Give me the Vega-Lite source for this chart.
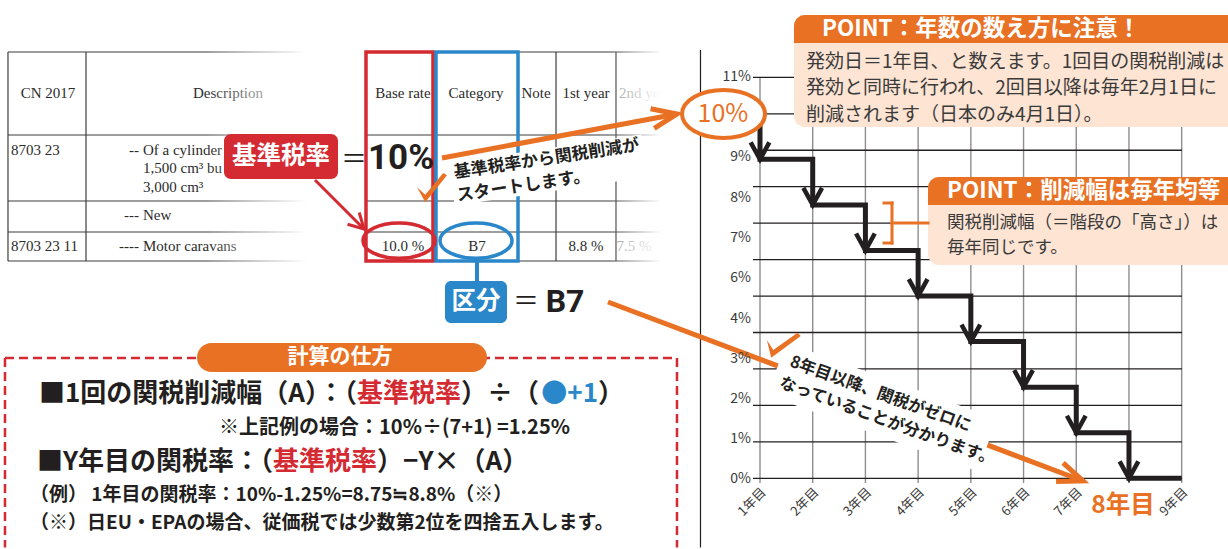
{
"$schema":"https://vega.github.io/schema/vega-lite/v6.json",
"width":1228,"height":549,"padding":0,
"autosize":{"type":"fit","contains":"padding"},
"background":"#ffffff",
"config":{"view":{"stroke":null},"axis":{"disable":true},"text":{"font":"Noto Sans CJK JP"}},
"encoding":{
 "x":{"field":"x","type":"quantitative","scale":{"domain":[-13.4185,9.8788],"nice":false,"zero":false},"axis":null},
 "y":{"field":"y","type":"quantitative","scale":{"domain":[-1.9396,13.1221],"nice":false,"zero":false},"axis":null}
},
"layer":[
{"data":{"values":[
{"x":-13.267,"x2":-7.499,"y":11.695,"y2":11.695},
{"x":-13.267,"x2":-7.499,"y":9.418,"y2":9.418},
{"x":-13.267,"x2":-7.499,"y":7.608,"y2":7.608},
{"x":-13.267,"x2":-7.499,"y":6.757,"y2":6.757},
{"x":-13.267,"x2":-7.499,"y":5.962,"y2":5.962},
{"x":-13.267,"x2":-13.267,"y":11.695,"y2":5.962},
{"x":-11.787,"x2":-11.787,"y":11.695,"y2":5.962},
{"x":-6.475,"x2":-0.897,"y":11.695,"y2":11.695},
{"x":-6.475,"x2":-0.897,"y":9.418,"y2":9.418},
{"x":-6.475,"x2":-0.897,"y":7.608,"y2":7.608},
{"x":-6.475,"x2":-0.897,"y":6.757,"y2":6.757},
{"x":-6.475,"x2":-0.897,"y":5.962,"y2":5.962},
{"x":-5.166,"x2":-5.166,"y":11.695,"y2":5.962},
{"x":-3.591,"x2":-3.591,"y":11.695,"y2":5.962},
{"x":-2.870,"x2":-2.870,"y":11.695,"y2":5.962},
{"x":-1.732,"x2":-1.732,"y":11.695,"y2":5.962}
]},
"mark":{"type":"rule","color":"#3c3c3c","strokeWidth":1.2},
"encoding":{"x2":{"field":"x2"},"y2":{"field":"y2"}}},

{"data":{"values":[
{"x":-12.508,"y":10.571,"t":"CN 2017"},
{"x":-9.093,"y":10.571,"t":"Description"},
{"x":-5.773,"y":10.571,"t":"Base rate"},
{"x":-4.388,"y":10.571,"t":"Category"},
{"x":-3.250,"y":10.571,"t":"Note"},
{"x":-2.301,"y":10.571,"t":"1st year"},
{"x":-5.773,"y":6.373,"t":"10.0 %"},
{"x":-4.369,"y":6.373,"t":"B7"},
{"x":-2.301,"y":6.373,"t":"8.8 %"}
]},
"mark":{"type":"text","font":"Liberation Serif","fontSize":15,"color":"#2b2b2b","align":"center","baseline":"middle"},
"encoding":{"text":{"field":"t"}}},

{"data":{"values":[
{"x":-1.182,"y":10.571,"t":"2nd year"},
{"x":-1.390,"y":6.373,"t":"7.5 %"}
]},
"mark":{"type":"text","font":"Liberation Serif","fontSize":15,"color":"#a0a0a0","align":"center","baseline":"middle"},
"encoding":{"text":{"field":"t"}}},

{"data":{"values":[
{"x":-13.210,"y":9.007,"t":"8703 23"},
{"x":-13.210,"y":6.373,"t":"8703 23 11"},
{"x":-10.706,"y":9.007,"t":"Of a cylinder"},
{"x":-10.706,"y":8.513,"t":"1,500 cm³ bu"},
{"x":-10.706,"y":7.992,"t":"3,000 cm³"},
{"x":-10.706,"y":7.224,"t":"New"},
{"x":-10.706,"y":6.373,"t":"Motor caravans"}
]},
"mark":{"type":"text","font":"Liberation Serif","fontSize":15,"color":"#2b2b2b","align":"left","baseline":"middle"},
"encoding":{"text":{"field":"t"}}},

{"data":{"values":[
{"x":-10.782,"y":9.007,"t":"--"},
{"x":-10.782,"y":7.224,"t":"---"},
{"x":-10.782,"y":6.373,"t":"----"}
]},
"mark":{"type":"text","font":"Liberation Serif","fontSize":15,"color":"#2b2b2b","align":"right","baseline":"middle"},
"encoding":{"text":{"field":"t"}}},

{"data":{"values":[
{"x":-9.529,"x2":-6.551,"y":11.888,"y2":5.770},
{"x":-1.846,"x2":-0.328,"y":11.888,"y2":5.770}
]},
"mark":{"type":"rect","fill":{"gradient":"linear","x1":0,"y1":0,"x2":1,"y2":0,"stops":[{"offset":0,"color":"rgba(255,255,255,0)"},{"offset":0.65,"color":"#ffffff"},{"offset":1,"color":"#ffffff"}]}},
"encoding":{"x2":{"field":"x2"},"y2":{"field":"y2"}}},

{"data":{"values":[{"x":-6.475,"x2":-5.204,"y":11.695,"y2":5.962}]},
"mark":{"type":"rect","filled":false,"color":"#D42A31","strokeWidth":3.5},
"encoding":{"x2":{"field":"x2"},"y2":{"field":"y2"}}},
{"data":{"values":[{"x":-5.147,"x2":-3.591,"y":11.695,"y2":5.962}]},
"mark":{"type":"rect","filled":false,"color":"#2A87C9","strokeWidth":3.5},
"encoding":{"x2":{"field":"x2"},"y2":{"field":"y2"}}},

{"data":{"values":[{"x":-5.849,"y":6.52}]},
"mark":{"type":"point","shape":"M-1,0C-1,-0.271,-0.552,-0.49,0,-0.49C0.552,-0.49,1,-0.271,1,0C1,0.271,0.552,0.49,0,0.49C-0.552,0.49,-1,0.271,-1,0Z","size":5184,"filled":false,"color":"#D42A31","strokeWidth":3.5,"opacity":1}},
{"data":{"values":[{"x":-4.388,"y":6.52}]},
"mark":{"type":"point","shape":"M-1,0C-1,-0.271,-0.552,-0.49,0,-0.49C0.552,-0.49,1,-0.271,1,0C1,0.271,0.552,0.49,0,0.49C-0.552,0.49,-1,0.271,-1,0Z","size":5184,"filled":false,"color":"#2A87C9","strokeWidth":3.5,"opacity":1}},

{"data":{"values":[{"year":1,"lo":-0.129,"hi":11},{"year":2,"lo":-0.129,"hi":11},{"year":3,"lo":-0.129,"hi":11},{"year":4,"lo":-0.129,"hi":11},{"year":5,"lo":-0.129,"hi":11},{"year":6,"lo":-0.129,"hi":11},{"year":7,"lo":-0.129,"hi":11},{"year":8,"lo":-0.129,"hi":11},{"year":9,"lo":-0.129,"hi":11}]},
"mark":{"type":"rule","color":"#8e8e8e","strokeWidth":1.4},
"encoding":{
 "x":{"field":"year","type":"quantitative","scale":{"domain":[-13.4185,9.8788],"nice":false,"zero":false},"axis":null},
 "y":{"field":"lo","type":"quantitative","scale":{"domain":[-1.9396,13.1221],"nice":false,"zero":false},"axis":null},
 "y2":{"field":"hi"}}},

{"data":{"values":[{"v":0,"from":0.867,"to":9.006},{"v":1,"from":0.867,"to":9.006},{"v":2,"from":0.867,"to":9.006},{"v":3,"from":0.867,"to":9.006},{"v":4,"from":0.867,"to":9.006},{"v":5,"from":0.867,"to":9.006},{"v":6,"from":0.867,"to":9.006},{"v":7,"from":0.867,"to":9.006},{"v":8,"from":0.867,"to":9.006},{"v":9,"from":0.867,"to":9.006},{"v":10,"from":0.867,"to":9.006},{"v":11,"from":0.867,"to":9.006}]},
"mark":{"type":"rule","color":"#231F20","strokeWidth":1.3},
"encoding":{
 "y":{"field":"v","type":"quantitative","scale":{"domain":[-1.9396,13.1221],"nice":false,"zero":false},"axis":null},
 "x":{"field":"from","type":"quantitative","scale":{"domain":[-13.4185,9.8788],"nice":false,"zero":false},"axis":null},
 "x2":{"field":"to"}}},

{"data":{"values":[{"year":1,"rate":10},{"year":1,"rate":8.75},{"year":2,"rate":7.5},{"year":3,"rate":6.25},{"year":4,"rate":5},{"year":5,"rate":3.75},{"year":6,"rate":2.5},{"year":7,"rate":1.25},{"year":8,"rate":0},{"year":9,"rate":0}]},
"mark":{"type":"line","interpolate":"step-after","color":"#231F20","strokeWidth":5,"strokeJoin":"miter"},
"encoding":{
 "x":{"field":"year","type":"quantitative","scale":{"domain":[-13.4185,9.8788],"nice":false,"zero":false},"axis":null},
 "y":{"field":"rate","type":"quantitative","scale":{"domain":[-1.9396,13.1221],"nice":false,"zero":false},"axis":null},
 "order":[{"field":"year","type":"quantitative"},{"field":"rate","type":"quantitative","sort":"descending"}]}},

{"data":{"values":[{"year":1,"rate":10},{"year":1,"rate":8.75},{"year":2,"rate":7.5},{"year":3,"rate":6.25},{"year":4,"rate":5},{"year":5,"rate":3.75},{"year":6,"rate":2.5},{"year":7,"rate":1.25},{"year":8,"rate":0},{"year":9,"rate":0}]},
"transform":[{"filter":"datum.rate < 10 && datum.year < 9"}],
"mark":{"type":"point","shape":"M-0.55,-1L0,0L0.55,-1","size":1156,"filled":false,"color":"#231F20","strokeWidth":4.5,"opacity":1},
"encoding":{
 "x":{"field":"year","type":"quantitative","scale":{"domain":[-13.4185,9.8788],"nice":false,"zero":false},"axis":null},
 "y":{"field":"rate","type":"quantitative","scale":{"domain":[-1.9396,13.1221],"nice":false,"zero":false},"axis":null}}},

{"data":{"values":[{"x":-0.129,"x2":-0.129,"y":11.75,"y2":-1.90}]},
"mark":{"type":"rule","color":"#231F20","strokeWidth":1.2},
"encoding":{"x2":{"field":"x2"},"y2":{"field":"y2"}}},

{"data":{"values":[{"x":1.645,"x2":9.8788,"y":12.711,"y2":9.638},{"x":4.187,"x2":9.8788,"y":8.266,"y2":5.852}]},
"mark":{"type":"rect","color":"#FDE4D3","cornerRadiusTopLeft":11,"cornerRadiusBottomLeft":11},
"encoding":{"x2":{"field":"x2"},"y2":{"field":"y2"}}},
{"data":{"values":[{"x":1.645,"x2":9.8788,"y":12.711,"y2":11.942},{"x":4.187,"x2":9.8788,"y":8.266,"y2":7.498}]},
"mark":{"type":"rect","color":"#E97124","cornerRadiusTopLeft":11},
"encoding":{"x2":{"field":"x2"},"y2":{"field":"y2"}}},

{"data":{"values":[
{"x":3.504,"x2":3.504,"y":7.553,"y2":6.455},
{"x":3.353,"x2":3.504,"y":7.553,"y2":7.553},
{"x":3.353,"x2":3.504,"y":6.455,"y2":6.455},
{"x":3.504,"x2":4.187,"y":7.004,"y2":7.004}]},
"mark":{"type":"rule","color":"#E97124","strokeWidth":3,"strokeCap":"square"},
"encoding":{"x2":{"field":"x2"},"y2":{"field":"y2"}}},

{"data":{"values":[{"x":-1.884,"y":4.837,"x2":7.128,"y2":-0.074}]},
"mark":{"type":"rule","color":"#E97124","strokeWidth":5},
"encoding":{"x2":{"field":"x2"},"y2":{"field":"y2"}}},

{"data":{"values":[{"x":3.315,"y":1.956}]},
"mark":{"type":"point","shape":"M-1,-0.25L1,-0.25L1,0.25L-1,0.25Z","size":50176,"angle":20,"filled":true,"color":"#ffffff","opacity":1}},
{"data":{"values":[{"x":-3.022,"y":8.458}]},
"mark":{"type":"point","shape":"M-1,-0.22L1,-0.22L1,0.22L-1,0.22Z","size":38025,"angle":-8.5,"filled":true,"color":"#ffffff","opacity":1}},

{"data":{"values":[{"x":-5.033,"y":8.787,"x2":-0.575,"y2":9.995}]},
"mark":{"type":"rule","color":"#E97124","strokeWidth":5},
"encoding":{"x2":{"field":"x2"},"y2":{"field":"y2"}}},
{"data":{"values":[{"x":-7.442,"y":8.184,"x2":-6.513,"y2":6.840}]},
"mark":{"type":"rule","color":"#D42A31","strokeWidth":3},
"encoding":{"x2":{"field":"x2"},"y2":{"field":"y2"}}},

{"data":{"values":[{"x":-0.575,"y":9.995}]},
"mark":{"type":"point","shape":"M-1,-0.4L0,0L-1,0.4","size":2500,"angle":-10.6,"filled":false,"color":"#E97124","strokeWidth":5,"opacity":1}},
{"data":{"values":[{"x":7.128,"y":-0.074}]},
"mark":{"type":"point","shape":"M-1,-0.4L0,0L-1,0.4","size":2500,"angle":20.6,"filled":false,"color":"#E97124","strokeWidth":5,"opacity":1}},
{"data":{"values":[{"x":-6.513,"y":6.840}]},
"mark":{"type":"point","shape":"M-1,-0.55L0,0L-1,0.55","size":900,"angle":45,"filled":false,"color":"#D42A31","strokeWidth":3,"opacity":1}},

{"data":{"values":[{"x":-5.223,"y":7.964}]},
"mark":{"type":"point","shape":"M-1,-0.05L-0.45,0.95L1,-0.85L0.75,-1L-0.45,0.45Z","size":900,"filled":true,"color":"#E97124","opacity":1}},
{"data":{"values":[{"x":1.417,"y":3.657}]},
"mark":{"type":"point","shape":"M-1,-0.05L-0.45,0.95L1,-0.85L0.75,-1L-0.45,0.45Z","size":1000,"angle":15,"filled":true,"color":"#E97124","opacity":1}},

{"data":{"values":[{"x":-9.169,"x2":-7.006,"y":9.446,"y2":8.211}]},
"mark":{"type":"rect","color":"#D42A31","cornerRadius":7},
"encoding":{"x2":{"field":"x2"},"y2":{"field":"y2"}}},
{"data":{"values":[{"x":-4.369,"x2":-4.369,"y":6.071,"y2":5.385}]},
"mark":{"type":"rule","color":"#2A87C9","strokeWidth":4},
"encoding":{"x2":{"field":"x2"},"y2":{"field":"y2"}}},
{"data":{"values":[{"x":-4.976,"x2":-3.800,"y":5.413,"y2":4.261}]},
"mark":{"type":"rect","color":"#2A87C9","cornerRadius":6},
"encoding":{"x2":{"field":"x2"},"y2":{"field":"y2"}}},

{"data":{"values":[{"x":0.3075,"y":9.995}]},
"mark":{"type":"point","shape":"M-1,0C-1,-0.32,-0.552,-0.58,0,-0.58C0.552,-0.58,1,-0.32,1,0C1,0.32,0.552,0.58,0,0.58C-0.552,0.58,-1,0.32,-1,0Z","size":6889,"filled":true,"fill":"#ffffff","stroke":"#E97124","strokeWidth":4,"opacity":1}},
{"data":{"values":[{"x":0.298,"y":9.995,"t":"10%"}]},
"mark":{"type":"text","fontSize":25,"color":"#E97124","align":"center","baseline":"middle"},
"encoding":{"text":{"field":"t"}}},

{"data":{"values":[{"x":-8.088,"y":8.815,"t":"基準税率"},{"x":-4.388,"y":4.837,"t":"区分"}]},
"mark":{"type":"text","fontSize":24.5,"fontWeight":"bold","color":"#ffffff","align":"center","baseline":"middle"},
"encoding":{"text":{"field":"t"}}},
{"data":{"values":[{"x":-6.703,"y":8.733,"t":"＝"},{"x":-3.439,"y":4.837,"t":"＝"}]},
"mark":{"type":"text","fontSize":26,"color":"#231F20","align":"center","baseline":"middle"},
"encoding":{"text":{"field":"t"}}},
{"data":{"values":[{"x":-5.811,"y":8.787,"t":"10%"}]},
"mark":{"type":"text","font":"Roboto","fontSize":35,"fontWeight":"bold","color":"#231F20","align":"center","baseline":"middle"},
"encoding":{"text":{"field":"t"}}},
{"data":{"values":[{"x":-2.699,"y":4.837,"t":"B7"}]},
"mark":{"type":"text","font":"Roboto","fontSize":32,"fontWeight":"bold","color":"#231F20","align":"center","baseline":"middle"},
"encoding":{"text":{"field":"t"}}},

{"data":{"values":[{"x":-4.805,"y":8.376,"t":"基準税率から関税削減が"},{"x":-4.748,"y":7.745,"t":"スタートします。"}]},
"mark":{"type":"text","fontSize":17,"fontWeight":"bold","angle":-8.5,"align":"left","baseline":"middle","color":"#231F20"},
"encoding":{"text":{"field":"t"}}},
{"data":{"values":[{"x":1.582,"y":3.207,"t":"8年目以降、関税がゼロに"},{"x":1.383,"y":2.636,"t":"なっていることが分かります。"}]},
"mark":{"type":"text","fontSize":16.5,"fontWeight":"bold","angle":20,"align":"left","baseline":"middle","color":"#231F20"},
"encoding":{"text":{"field":"t"}}},

{"data":{"values":[{"x":2.176,"y":12.326,"t":"POINT：年数の数え方に注意！"},{"x":4.548,"y":7.882,"t":"POINT：削減幅は毎年均等"}]},
"mark":{"type":"text","fontSize":22.5,"fontWeight":"bold","color":"#ffffff","align":"left","baseline":"middle","clip":true},
"encoding":{"text":{"field":"t"}}},
{"data":{"values":[
{"x":1.873,"y":11.421,"t":"発効日＝1年目、と数えます。1回目の関税削減は"},
{"x":1.873,"y":10.708,"t":"発効と同時に行われ、2回目以降は毎年2月1日に"},
{"x":1.873,"y":9.967,"t":"削減されます（日本のみ4月1日）。"}]},
"mark":{"type":"text","fontSize":19,"color":"#3a3a3a","align":"left","baseline":"middle","clip":true},
"encoding":{"text":{"field":"t"}}},
{"data":{"values":[
{"x":4.548,"y":7.004,"t":"関税削減幅（＝階段の「高さ」）は"},
{"x":4.548,"y":6.318,"t":"毎年同じです。"}]},
"mark":{"type":"text","fontSize":17.5,"color":"#3a3a3a","align":"left","baseline":"middle","clip":true},
"encoding":{"text":{"field":"t"}}},

{"data":{"values":[{"x":0.829,"y":-0.019,"t":"0%"},{"x":0.829,"y":1.078,"t":"1%"},{"x":0.829,"y":2.176,"t":"2%"},{"x":0.829,"y":3.273,"t":"3%"},{"x":0.829,"y":4.370,"t":"4%"},{"x":0.829,"y":5.495,"t":"6%"},{"x":0.829,"y":6.593,"t":"7%"},{"x":0.829,"y":7.690,"t":"8%"},{"x":0.829,"y":8.815,"t":"9%"},{"x":0.829,"y":11.01,"t":"11%"}]},
"mark":{"type":"text","fontSize":14,"color":"#3a3a3a","align":"right","baseline":"middle"},
"encoding":{"text":{"field":"t"}}},
{"data":{"values":[{"year":1,"base":0,"t":"1年目"},{"year":2,"base":0,"t":"2年目"},{"year":3,"base":0,"t":"3年目"},{"year":4,"base":0,"t":"4年目"},{"year":5,"base":0,"t":"5年目"},{"year":6,"base":0,"t":"6年目"},{"year":7,"base":0,"t":"7年目"},{"year":9,"base":0,"t":"9年目"}]},
"mark":{"type":"text","fontSize":13,"color":"#3a3a3a","align":"right","baseline":"middle","angle":-45,"dx":-5.7,"dy":11.3},
"encoding":{
 "x":{"field":"year","type":"quantitative","scale":{"domain":[-13.4185,9.8788],"nice":false,"zero":false},"axis":null},
 "y":{"field":"base","type":"quantitative","scale":{"domain":[-1.9396,13.1221],"nice":false,"zero":false},"axis":null},
 "text":{"field":"t"}}},
{"data":{"values":[{"x":7.887,"y":-0.760,"t":"8年目"}]},
"mark":{"type":"text","fontSize":24.5,"fontWeight":"bold","color":"#E97124","align":"center","baseline":"middle"},
"encoding":{"text":{"field":"t"}}},

{"data":{"values":[
{"x":-13.324,"x2":-0.575,"y":3.300,"y2":3.300},
{"x":-13.324,"x2":-13.324,"y":3.300,"y2":-1.90},
{"x":-0.575,"x2":-0.575,"y":3.300,"y2":-1.90}]},
"mark":{"type":"rule","color":"#D42A31","strokeWidth":2.5,"strokeDash":[9,5]},
"encoding":{"x2":{"field":"x2"},"y2":{"field":"y2"}}},
{"data":{"values":[{"x":-9.681,"x2":-4.179,"y":3.712,"y2":2.916}]},
"mark":{"type":"rect","color":"#E97124","cornerRadius":14.5},
"encoding":{"x2":{"field":"x2"},"y2":{"field":"y2"}}},
{"data":{"values":[{"x":-6.968,"y":3.328,"t":"計算の仕方"}]},
"mark":{"type":"text","fontSize":21,"fontWeight":"bold","color":"#ffffff","align":"center","baseline":"middle"},
"encoding":{"text":{"field":"t"}}},

{"data":{"values":[
{"x":-6.646,"y":2.313,"t":"■1回の関税削減幅（A）：（","c":"k"},
{"x":-2.073,"y":2.313,"t":"●+1","c":"b"},
{"x":-8.239,"y":0.447,"t":"■Y年目の関税率：（","c":"k"}]},
"mark":{"type":"text","fontSize":26,"fontWeight":"bold","align":"right","baseline":"middle"},
"encoding":{"text":{"field":"t"},
 "color":{"field":"c","type":"nominal","scale":{"domain":["k","r","b"],"range":["#231F20","#D42A31","#2A87C9"]},"legend":null}}},
{"data":{"values":[
{"x":-6.646,"y":2.313,"t":"基準税率","c":"r"},
{"x":-4.673,"y":2.313,"t":"）÷（","c":"k"},
{"x":-2.073,"y":2.313,"t":"）","c":"k"},
{"x":-8.239,"y":0.447,"t":"基準税率","c":"r"},
{"x":-6.264,"y":0.447,"t":"）−Y×（A）","c":"k"}]},
"mark":{"type":"text","fontSize":26,"fontWeight":"bold","align":"left","baseline":"middle"},
"encoding":{"text":{"field":"t"},
 "color":{"field":"c","type":"nominal","scale":{"domain":["k","r","b"],"range":["#231F20","#D42A31","#2A87C9"]},"legend":null}}},
{"data":{"values":[{"x":-5.934,"y":1.380,"t":"※上記例の場合：10%÷(7+1) =1.25%"}]},
"mark":{"type":"text","fontSize":20,"fontWeight":"bold","color":"#231F20","align":"center","baseline":"middle"},
"encoding":{"text":{"field":"t"}}},
{"data":{"values":[
{"x":-12.849,"y":-0.458,"t":"（例） 1年目の関税率：10%-1.25%=8.75≒8.8%（※）"},
{"x":-12.849,"y":-1.226,"t":"（※）日EU・EPAの場合、従価税では少数第2位を四捨五入します。"}]},
"mark":{"type":"text","fontSize":19,"fontWeight":"bold","color":"#231F20","align":"left","baseline":"middle"},
"encoding":{"text":{"field":"t"}}}
]
}
